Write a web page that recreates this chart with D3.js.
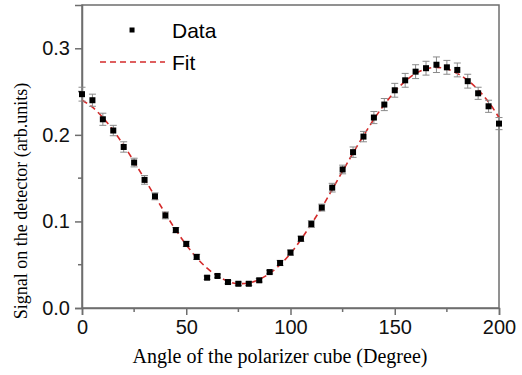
<!DOCTYPE html>
<html>
<head>
<meta charset="utf-8">
<script src="https://cdn.jsdelivr.net/npm/d3@7"></script>
<style>
  body { margin: 0; background: #fff; }
  svg { display: block; }
</style>
</head>
<body>
<script>
const margin = { top: 5, right: 23, bottom: 67, left: 82 }
const width = 522 - margin.left - margin.right
const height = 375 - margin.top - margin.bottom

// measured points (every 5 degrees)
const angles = d3.range(0, 201, 5)
const signal = [0.247, 0.240, 0.218, 0.205, 0.186, 0.168, 0.148, 0.129, 0.107, 0.090,
                0.074, 0.059, 0.035, 0.037, 0.030, 0.028, 0.028, 0.032, 0.0415, 0.052,
                0.064, 0.080, 0.097, 0.116, 0.139, 0.160, 0.180, 0.198, 0.220, 0.235,
                0.2515, 0.263, 0.273, 0.277, 0.281, 0.278, 0.275, 0.262, 0.248, 0.233, 0.213]
const errors = [0.008, 0.007, 0.007, 0.006, 0.006, 0.005, 0.005, 0.004, 0.004, 0.003,
                0.003, 0.003, 0.002, 0.002, 0.002, 0.002, 0.002, 0.002, 0.002, 0.003,
                0.003, 0.003, 0.004, 0.004, 0.005, 0.005, 0.006, 0.006, 0.007, 0.007,
                0.008, 0.008, 0.008, 0.008, 0.009, 0.008, 0.008, 0.008, 0.007, 0.007, 0.007]
// fit curve read at the same angles
const fit = [0.240, 0.232, 0.220, 0.205, 0.188, 0.169, 0.149, 0.129, 0.109, 0.090,
             0.073, 0.058, 0.046, 0.037, 0.031, 0.028, 0.029, 0.033, 0.040, 0.050,
             0.063, 0.079, 0.097, 0.116, 0.137, 0.158, 0.179, 0.199, 0.218, 0.235,
             0.250, 0.262, 0.271, 0.276, 0.278, 0.276, 0.271, 0.263, 0.252, 0.238, 0.220]

const xTicks = [0, 50, 100, 150, 200]
const xMinor = [25, 75, 125, 175]
const yTicks = [0.0, 0.1, 0.2, 0.3]
const yMinor = [0.05, 0.15, 0.25]

const axisColor = '#6e6e6e'

const x = d3.scaleLinear().domain([0, 200]).range([0, width])
const y = d3.scaleLinear().domain([0, 0.35]).range([height, 0])

const svg = d3.select('body').append('svg')
	.attr('width', 522)
	.attr('height', 375)
.append('g')
	.attr('transform', 'translate(' + margin.left + ',' + margin.top + ')')

// frame (top / right)
svg.append('rect')
	.attr('width', width)
	.attr('height', height)
	.style('fill', 'none')
	.style('stroke', axisColor)
	.style('stroke-width', 1.5)

const xAxis = d3.axisBottom(x).tickValues(xTicks).tickSize(7).tickPadding(5).tickFormat(d3.format('d'))
const yAxis = d3.axisLeft(y).tickValues(yTicks).tickSize(7).tickPadding(5).tickFormat(d3.format('.1f'))

const gx = svg.append('g')
	.attr('transform', 'translate(0,' + height + ')')
	.call(xAxis)
gx.selectAll('.minor')
	.data(xMinor)
.enter().append('line')
	.attr('class', 'minor')
	.attr('x1', d => x(d)).attr('x2', d => x(d))
	.attr('y1', 0).attr('y2', 4)

const gy = svg.append('g').call(yAxis)
gy.selectAll('.minor')
	.data(yMinor)
.enter().append('line')
	.attr('class', 'minor')
	.attr('y1', d => y(d)).attr('y2', d => y(d))
	.attr('x1', 0).attr('x2', -4)

svg.selectAll('.domain, .tick line, .minor')
	.style('stroke', axisColor)
	.style('stroke-width', 1.5)
svg.selectAll('.tick text')
	.style('font-family', '"Liberation Sans", Arial, sans-serif')
	.style('font-size', '20px')
	.style('fill', '#111')

// fit line
svg.append('path')
	.datum(angles.map((a, i) => [a, fit[i]]))
	.attr('d', d3.line().x(d => x(d[0])).y(d => y(d[1])).curve(d3.curveMonotoneX))
	.style('fill', 'none')
	.style('stroke', '#d42a2a')
	.style('stroke-width', 1.6)
	.style('stroke-dasharray', '6,4')

// error bars
const eb = svg.selectAll('.err')
	.data(angles.map((a, i) => ({ a: a, v: signal[i], e: errors[i] })))
.enter().append('g')
	.attr('class', 'err')
	.style('stroke', '#8a8a8a')
	.style('stroke-width', 1)
eb.append('line')
	.attr('x1', d => x(d.a)).attr('x2', d => x(d.a))
	.attr('y1', d => y(d.v - d.e)).attr('y2', d => y(d.v + d.e))
eb.append('line')
	.attr('x1', d => x(d.a) - 3.5).attr('x2', d => x(d.a) + 3.5)
	.attr('y1', d => y(d.v + d.e)).attr('y2', d => y(d.v + d.e))
eb.append('line')
	.attr('x1', d => x(d.a) - 3.5).attr('x2', d => x(d.a) + 3.5)
	.attr('y1', d => y(d.v - d.e)).attr('y2', d => y(d.v - d.e))

// data markers
svg.selectAll('.pt')
	.data(angles.map((a, i) => [a, signal[i]]))
.enter().append('rect')
	.attr('class', 'pt')
	.attr('x', d => x(d[0]) - 3)
	.attr('y', d => y(d[1]) - 3)
	.attr('width', 6)
	.attr('height', 6)
	.style('fill', '#000')

// legend
const legend = svg.append('g')
legend.append('rect')
	.attr('x', x(24) - 2.5).attr('y', 22.5)
	.attr('width', 5).attr('height', 5)
	.style('fill', '#000')
legend.append('text')
	.attr('x', 90).attr('y', 33)
	.style('font-family', '"Liberation Sans", Arial, sans-serif')
	.style('font-size', '21px')
	.text('Data')
legend.append('line')
	.attr('x1', 18).attr('x2', 83)
	.attr('y1', 57).attr('y2', 57)
	.style('stroke', '#d42a2a')
	.style('stroke-width', 1.6)
	.style('stroke-dasharray', '6,4')
legend.append('text')
	.attr('x', 90).attr('y', 65)
	.style('font-family', '"Liberation Sans", Arial, sans-serif')
	.style('font-size', '21px')
	.text('Fit')

// axis titles
svg.append('text')
	.attr('x', 198).attr('y', 358)
	.style('text-anchor', 'middle')
	.style('font-family', '"Liberation Serif", "Times New Roman", serif')
	.style('font-size', '20px')
	.text('Angle of the polarizer cube (Degree)')

svg.append('text')
	.attr('transform', 'translate(-55,196) rotate(-90)')
	.style('text-anchor', 'middle')
	.style('font-family', '"Liberation Serif", "Times New Roman", serif')
	.style('font-size', '18px')
	.text('Signal on the detector (arb.units)')
</script>
</body>
</html>
